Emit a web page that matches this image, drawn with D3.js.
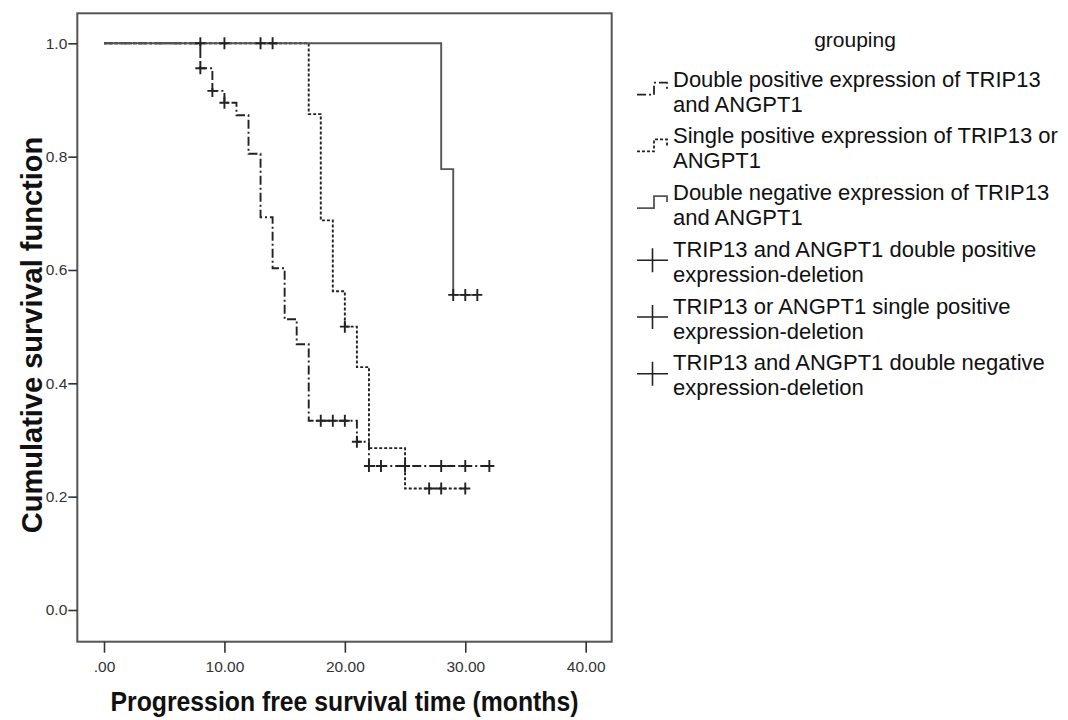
<!DOCTYPE html>
<html lang="en">
<head>
<meta charset="utf-8">
<title>Progression free survival</title>
<script src="https://d3js.org/d3.v7.min.js"></script>
<style>
  body { margin: 0; background: #fff; }
  text { font-family: Arial, "Liberation Sans", sans-serif; }
</style>
</head>
<body>
<script>

// --- data ---
var xTicks = [0, 10, 20, 30, 40];
var xTickLabels = [".00", "10.00", "20.00", "30.00", "40.00"];
var yTicks = [0, 0.2, 0.4, 0.6, 0.8, 1.0];
var yTickLabels = ["0.0", "0.2", "0.4", "0.6", "0.8", "1.0"];

// double positive (dash-dot)
var dpTimes = [0, 8, 9, 10, 11, 12, 13, 14, 15, 16, 17, 21, 22, 32];
var dpSurv = [1, 0.956, 0.916, 0.895, 0.873, 0.805, 0.693, 0.603, 0.513, 0.469, 0.334, 0.297, 0.254, 0.254];
var dpCensor = [8, 9, 10, 18, 19, 20, 21, 22, 23, 25, 28, 30, 32];

// single positive (dotted)
var spTimes = [0, 17, 18, 19, 20, 21, 22, 25, 30];
var spSurv = [1, 0.875, 0.6875, 0.5625, 0.5, 0.4286, 0.2857, 0.2143, 0.2143];
var spCensor = [20, 27, 28, 30];

// double negative (solid)
var dnTimes = [0, 28, 29, 31];
var dnSurv = [1, 0.778, 0.556, 0.556];
var dnCensor = [8, 10, 13, 14, 29, 30, 31];

var legendTitle = "grouping";
var legendLabels = [
  ["Double positive expression of TRIP13", "and ANGPT1"],
  ["Single positive expression of TRIP13 or", "ANGPT1"],
  ["Double negative expression of TRIP13", "and ANGPT1"],
  ["TRIP13 and ANGPT1 double positive", "expression-deletion"],
  ["TRIP13 or ANGPT1 single positive", "expression-deletion"],
  ["TRIP13 and ANGPT1 double negative", "expression-deletion"]
];

var w = 1068, h = 720;
var frame = {left: 77.3, top: 13.3, right: 611.7, bottom: 641.7};

var svg = d3.select("body").append("svg")
    .attr("width", w)
    .attr("height", h);

var x = d3.scaleLinear().domain([0, 40]).range([104, 585.7]);
var y = d3.scaleLinear().domain([0, 1]).range([610, 43.3]);

// frame
svg.append("rect")
    .attr("x", frame.left)
    .attr("y", frame.top)
    .attr("width", frame.right - frame.left)
    .attr("height", frame.bottom - frame.top)
    .attr("fill", "none")
    .attr("stroke", "#555")
    .attr("stroke-width", 2);

// axes
var xAxis = svg.append("g")
    .attr("transform", "translate(0," + frame.bottom + ")")
    .call(d3.axisBottom(x).tickValues(xTicks)
        .tickFormat((d, i) => xTickLabels[i]).tickSize(11).tickSizeOuter(0));
var yAxis = svg.append("g")
    .attr("transform", "translate(" + frame.left + ",0)")
    .call(d3.axisLeft(y).tickValues(yTicks)
        .tickFormat((d, i) => yTickLabels[i]).tickSize(9).tickSizeOuter(0));

[xAxis, yAxis].forEach(function(g) {
  g.select(".domain").remove();
  g.selectAll(".tick line").attr("stroke", "#333").attr("stroke-width", 1.6);
  g.selectAll(".tick text")
      .attr("fill", "#333")
      .style("font-size", "15.5px");
});
xAxis.selectAll(".tick text").attr("dy", "1.05em");
yAxis.selectAll(".tick text").attr("x", -10);

// survival curves
var series = [
  {times: dpTimes, surv: dpSurv, censor: dpCensor, dash: "9,3,2,3", color: "#222"},
  {times: spTimes, surv: spSurv, censor: spCensor, dash: "3,2", color: "#222"},
  {times: dnTimes, surv: dnSurv, censor: dnCensor, dash: null, color: "#555"}
];

function survAt(s, t) {
  var v = s.surv[0];
  for (var i = 0; i < s.times.length; i++) {
    if (s.times[i] <= t) v = s.surv[i];
  }
  return v;
}

var line = d3.line()
    .x(d => x(d[0]))
    .y(d => y(d[1]))
    .curve(d3.curveStepAfter);

series.forEach(function(s) {
  var pts = s.times.map((t, i) => [t, s.surv[i]]);
  svg.append("path")
      .attr("d", line(pts))
      .attr("fill", "none")
      .attr("stroke", s.color)
      .attr("stroke-width", 1.9)
      .attr("stroke-dasharray", s.dash);

  svg.selectAll(null)
      .data(s.censor)
      .enter()
      .append("path")
      .attr("d", function(t) {
        var cx = x(t), cy = y(survAt(s, t));
        return "M" + (cx - 5) + "," + cy + "H" + (cx + 5) +
               "M" + cx + "," + (cy - 6) + "V" + (cy + 6);
      })
      .attr("stroke", "#222")
      .attr("stroke-width", 1.9);
});

// axis titles
svg.append("text")
    .attr("x", (frame.left + frame.right) / 2)
    .attr("y", 711)
    .attr("text-anchor", "middle")
    .attr("textLength", 468)
    .attr("lengthAdjust", "spacingAndGlyphs")
    .style("font-size", "28px")
    .style("font-weight", "bold")
    .attr("fill", "#111")
    .text("Progression free survival time (months)");

svg.append("text")
    .attr("transform", "translate(42,335) rotate(-90)")
    .attr("text-anchor", "middle")
    .style("font-size", "29px")
    .style("font-weight", "bold")
    .attr("fill", "#111")
    .text("Cumulative survival function");

// legend
var lg = svg.append("g");
lg.append("text")
    .attr("x", 855)
    .attr("y", 46.7)
    .attr("text-anchor", "middle")
    .style("font-size", "21px")
    .attr("fill", "#111")
    .text(legendTitle);

var entryStep = 56.7, firstBase = 86.7, lineGap = 25;
legendLabels.forEach(function(lbl, i) {
  var b = firstBase + i * entryStep;
  lg.selectAll(null)
      .data(lbl)
      .enter()
      .append("text")
      .attr("x", 673)
      .attr("y", (d, j) => b + j * lineGap)
      .style("font-size", "22px")
      .attr("fill", "#111")
      .text(d => d);

  if (i < 3) {
    var s = series[i];
    lg.append("path")
        .attr("d", "M637," + (b + 8) + "H654V" + (b - 4) + "H667V" + (b + 2))
        .attr("fill", "none")
        .attr("stroke", s.color)
        .attr("stroke-width", 1.8)
        .attr("stroke-dasharray", i === 2 ? null : (i === 0 ? "9,3,2,3" : "3,2"));
  } else {
    var cy = b + 3.5;
    lg.append("path")
        .attr("d", "M637," + cy + "H668M652.5," + (cy - 12) + "V" + (cy + 12))
        .attr("stroke", "#222")
        .attr("stroke-width", 1.6);
  }
});

</script>
</body>
</html>
